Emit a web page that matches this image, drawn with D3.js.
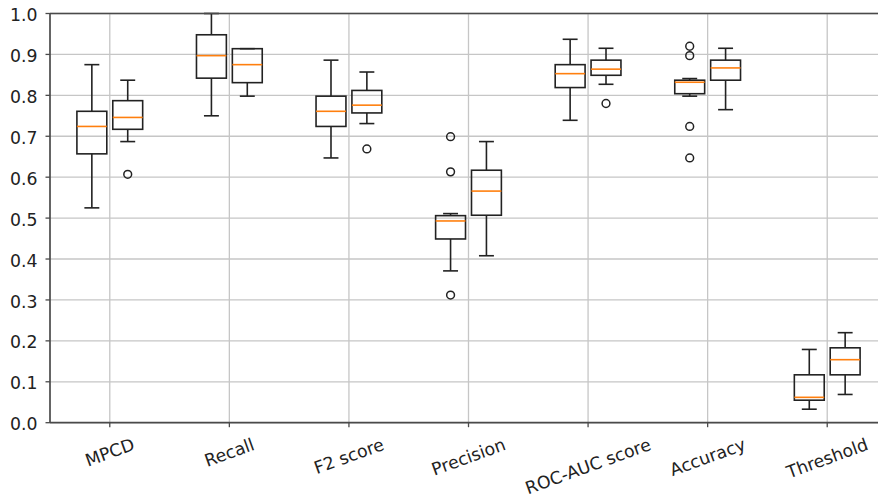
<!DOCTYPE html>
<html>
<head>
<meta charset="utf-8">
<script src="https://cdn.jsdelivr.net/npm/d3@7"></script>
<style>
  html, body { margin: 0; padding: 0; background: #fff; }
  svg { display: block; }
  text { font-family: "DejaVu Sans", sans-serif; fill: #222; }
</style>
</head>
<body>
<svg id="chart" width="878" height="500"></svg>
<script>
// ---------- data ----------
const categories = ["MPCD", "Recall", "F2 score", "Precision", "ROC-AUC score", "Accuracy", "Threshold"];
const yTicks = [0.0, 0.1, 0.2, 0.3, 0.4, 0.5, 0.6, 0.7, 0.8, 0.9, 1.0];

// five-number summaries: [lower whisker, Q1, median, Q3, upper whisker]
const seriesAStats = [
  [0.525, 0.657, 0.724, 0.761, 0.875],
  [0.750, 0.842, 0.897, 0.948, 1.000],
  [0.647, 0.724, 0.761, 0.798, 0.886],
  [0.371, 0.449, 0.493, 0.506, 0.511],
  [0.739, 0.819, 0.853, 0.875, 0.937],
  [0.798, 0.804, 0.832, 0.837, 0.841],
  [0.033, 0.055, 0.062, 0.117, 0.179]
];
const seriesAOutliers = [
  [],
  [],
  [],
  [0.699, 0.613, 0.312],
  [],
  [0.920, 0.897, 0.724, 0.647],
  []
];
const seriesBStats = [
  [0.687, 0.717, 0.746, 0.787, 0.837],
  [0.798, 0.831, 0.875, 0.914, 0.914],
  [0.731, 0.757, 0.776, 0.812, 0.857],
  [0.408, 0.507, 0.566, 0.617, 0.687],
  [0.827, 0.849, 0.864, 0.886, 0.915],
  [0.765, 0.837, 0.867, 0.886, 0.915],
  [0.069, 0.117, 0.154, 0.183, 0.220]
];
const seriesBOutliers = [
  [0.607],
  [],
  [0.669],
  [],
  [0.780],
  [],
  []
];

// ---------- layout ----------
const svg = d3.select("#chart");
svg.append("rect").attr("width", 878).attr("height", 500).attr("fill", "#fff");

const plotLeft = 50, plotRight = 887, plotTop = 13.5, plotBottom = 422.7;
const x = d3.scaleLinear().domain([0.5, categories.length + 0.5]).range([plotLeft, plotRight]);
const y = d3.scaleLinear().domain([0, 1]).range([plotBottom, plotTop]);

const offset = 0.15, boxW = 0.25;
const fontSize = 17.3;
const lineColor = "#222";
const lw = 1.6;
const gridColor = "#c6c6c6";
const spineColor = "#4a4a4a";

// grid
const grid = svg.append("g");
grid.selectAll("line.h").data(yTicks).enter().append("line")
  .attr("x1", plotLeft).attr("x2", plotRight)
  .attr("y1", d => y(d)).attr("y2", d => y(d))
  .attr("stroke", gridColor).attr("stroke-width", 1.3);
grid.selectAll("line.v").data(categories).enter().append("line")
  .attr("x1", (d, i) => x(i + 1)).attr("x2", (d, i) => x(i + 1))
  .attr("y1", plotTop).attr("y2", plotBottom)
  .attr("stroke", gridColor).attr("stroke-width", 1.3);

// boxes
function drawSeries(stats, outliers, dx) {
  const g = svg.append("g");
  stats.forEach((s, i) => {
    const cx = x(i + 1 + dx);
    const hw = (x(boxW) - x(0)) / 2;
    const cw = hw / 2;
    const [lo, q1, med, q3, hi] = s;
    g.append("line").attr("x1", cx).attr("x2", cx).attr("y1", y(q1)).attr("y2", y(lo))
      .attr("stroke", lineColor).attr("stroke-width", lw);
    g.append("line").attr("x1", cx).attr("x2", cx).attr("y1", y(q3)).attr("y2", y(hi))
      .attr("stroke", lineColor).attr("stroke-width", lw);
    [lo, hi].forEach(v => {
      g.append("line").attr("x1", cx - cw).attr("x2", cx + cw).attr("y1", y(v)).attr("y2", y(v))
        .attr("stroke", lineColor).attr("stroke-width", lw);
    });
    g.append("rect").attr("x", cx - hw).attr("width", 2 * hw)
      .attr("y", y(q3)).attr("height", y(q1) - y(q3))
      .attr("fill", "none").attr("stroke", lineColor).attr("stroke-width", lw);
    g.append("line").attr("x1", cx - hw).attr("x2", cx + hw).attr("y1", y(med)).attr("y2", y(med))
      .attr("stroke", "#ff7f0e").attr("stroke-width", lw);
    g.selectAll(null).data(outliers[i]).enter().append("circle")
      .attr("cx", cx).attr("cy", d => y(d)).attr("r", 3.9)
      .attr("fill", "none").attr("stroke", lineColor).attr("stroke-width", 1.5);
  });
}
drawSeries(seriesAStats, seriesAOutliers, -offset);
drawSeries(seriesBStats, seriesBOutliers, offset);

// spines
svg.append("line").attr("x1", plotLeft).attr("x2", plotRight).attr("y1", plotTop).attr("y2", plotTop)
  .attr("stroke", spineColor).attr("stroke-width", 1.7);
svg.append("line").attr("x1", plotLeft).attr("x2", plotRight).attr("y1", plotBottom).attr("y2", plotBottom)
  .attr("stroke", spineColor).attr("stroke-width", 1.7);
svg.append("line").attr("x1", plotLeft).attr("x2", plotLeft).attr("y1", plotTop).attr("y2", plotBottom)
  .attr("stroke", spineColor).attr("stroke-width", 1.7);

// y axis ticks + labels
const yAxis = svg.append("g");
yAxis.selectAll("line").data(yTicks).enter().append("line")
  .attr("x1", plotLeft - 4.5).attr("x2", plotLeft).attr("y1", d => y(d)).attr("y2", d => y(d))
  .attr("stroke", spineColor).attr("stroke-width", 1.3);
yAxis.selectAll("text").data(yTicks).enter().append("text")
  .attr("x", 37.5).attr("y", d => y(d) + 7.6)
  .attr("text-anchor", "end").attr("font-size", fontSize)
  .text(d => d3.format(".1f")(d));

// x axis ticks + rotated labels
const xAxis = svg.append("g");
xAxis.selectAll("line").data(categories).enter().append("line")
  .attr("x1", (d, i) => x(i + 1)).attr("x2", (d, i) => x(i + 1))
  .attr("y1", plotBottom).attr("y2", plotBottom + 4.5)
  .attr("stroke", spineColor).attr("stroke-width", 1.3);

const ang = 20 * Math.PI / 180;
const labelTop = 434.2;
const lineH = 1.164 * fontSize;
categories.forEach((c, i) => {
  const t = xAxis.append("text")
    .attr("font-size", fontSize)
    .attr("text-anchor", "middle")
    .attr("y", 0.346 * fontSize)
    .text(c);
  const w = t.node().getComputedTextLength();
  const H = w * Math.sin(ang) + lineH * Math.cos(ang);
  const cx = x(i + 1), cy = labelTop + H / 2;
  t.attr("transform", `translate(${cx},${cy}) rotate(-20)`);
});
</script>
</body>
</html>
